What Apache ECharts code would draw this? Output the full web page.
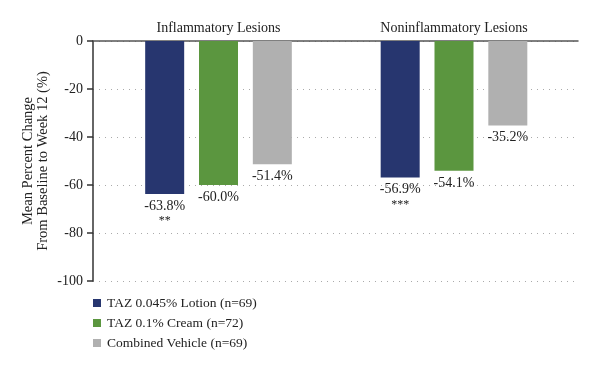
<!DOCTYPE html>
<html><head><meta charset="utf-8">
<script src="https://cdn.jsdelivr.net/npm/echarts@6/dist/echarts.min.js"></script>
<style>html,body{margin:0;padding:0;background:#fff}#c{width:600px;height:368px}</style>
</head><body><div id="c"></div>
<script>
const categories = ['Inflammatory Lesions', 'Noninflammatory Lesions'];
const seriesNames = ['TAZ 0.045% Lotion (n=69)', 'TAZ 0.1% Cream (n=72)', 'Combined Vehicle (n=69)'];
const lotion = [-63.8, -56.9];
const cream = [-60.0, -54.1];
const vehicle = [-51.4, -35.2];
const lotionMarks = ['**', '***'];
const yTicks = [0, -20, -40, -60, -80, -100];
const colors = ['#27366f', '#5b963f', '#b0b0b0'];
const FONT = 'Liberation Serif';

const chart = echarts.init(document.getElementById('c'));
function mkLabel(marks) {
  return {
    show: true, position: 'bottom', distance: 4,
    fontFamily: FONT, fontSize: 14, color: '#222', lineHeight: 16,
    formatter: p => {
      const v = p.value.toFixed(1) + '%';
      const m = marks ? marks[p.dataIndex] : '';
      return m ? v + '\n{s|' + m + '}' : v;
    },
    rich: { s: { fontFamily: FONT, fontSize: 12, color: '#222', lineHeight: 14 } }
  };
}
const data = [lotion, cream, vehicle];
const marks = [lotionMarks, null, null];
chart.setOption({
  animation: false,
  textStyle: { fontFamily: FONT },
  grid: [
    { left: 93, right: 22, top: 41, bottom: 87 },
    { left: 100.75, right: 28.25, top: 41, bottom: 87 }
  ],
  legend: {
    orient: 'vertical', left: 93, top: 296, padding: 0, itemWidth: 8, itemHeight: 8, itemGap: 6,
    icon: 'rect',
    textStyle: { fontFamily: FONT, fontSize: 13.5, color: '#222', padding: [0, 0, 0, 1] },
    data: seriesNames
  },
  xAxis: [
    { gridIndex: 0, type: 'value', position: 'top', show: true,
      axisLine: { show: true, lineStyle: { color: '#555', width: 1.5 } },
      axisTick: { show: false }, axisLabel: { show: false }, splitLine: { show: false } },
    { gridIndex: 1, type: 'category', position: 'top', data: categories,
      axisLine: { show: false }, axisTick: { show: false },
      axisLabel: { fontFamily: FONT, fontSize: 14, color: '#222', margin: 6 } }
  ],
  yAxis: [
    { gridIndex: 0, type: 'value', min: -100, max: 0, interval: 20,
      name: 'Mean Percent Change\nFrom Baseline to Week 12 (%)',
      nameLocation: 'middle', nameGap: 42, nameRotate: 90, nameMoveOverlap: false,
      nameTextStyle: { fontFamily: FONT, fontSize: 14.5, color: '#222', lineHeight: 15 },
      axisLine: { show: true, lineStyle: { color: '#333', width: 1.5 } },
      axisTick: { show: true, length: 6, lineStyle: { color: '#333', width: 1.5 } },
      axisLabel: { fontFamily: FONT, fontSize: 14, color: '#222', margin: 10,
        formatter: v => yTicks.includes(v) ? String(v) : '' },
      splitLine: { show: true, lineStyle: { color: '#aaa', type: [1, 5], width: 1 } } },
    { gridIndex: 1, type: 'value', min: -100, max: 0, interval: 20, show: false,
      splitLine: { show: false } }
  ],
  series: seriesNames.map((n, i) => ({
    name: n, type: 'bar', xAxisIndex: 1, yAxisIndex: 1,
    data: data[i], barWidth: 39, barGap: '38%',
    itemStyle: { color: colors[i] },
    label: mkLabel(marks[i])
  }))
});
</script></body></html>
